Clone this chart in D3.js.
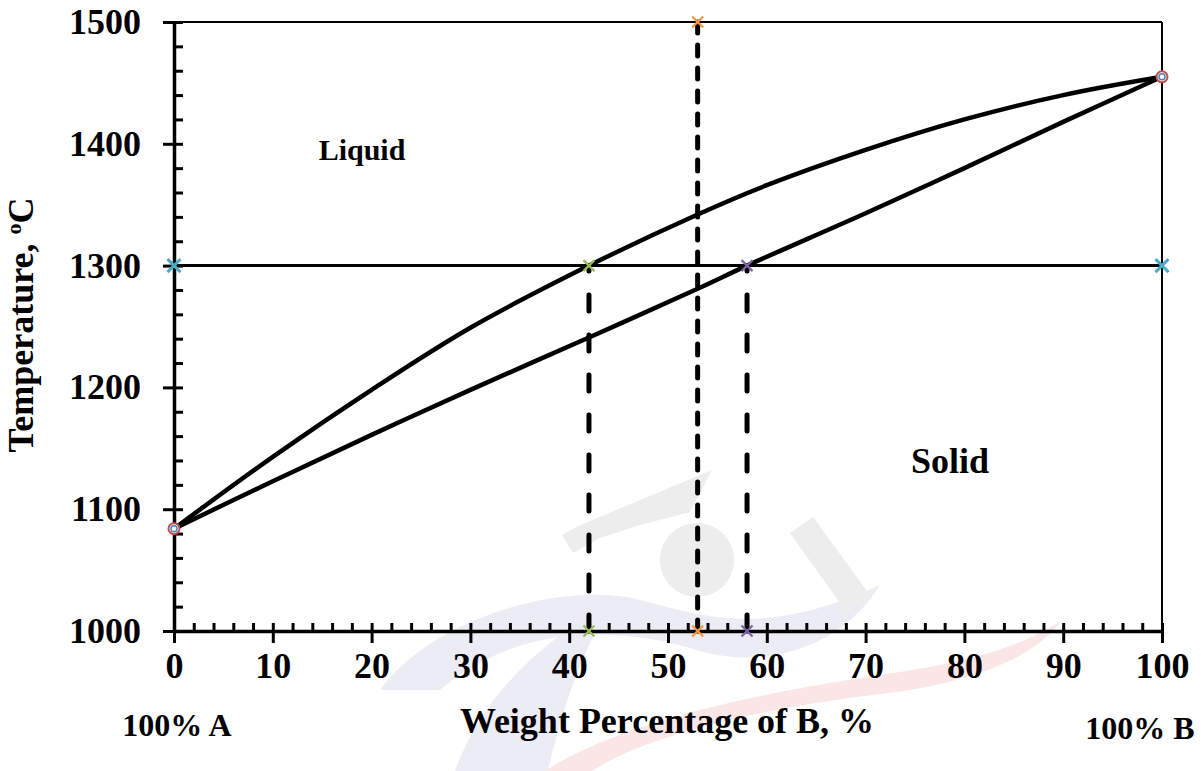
<!DOCTYPE html>
<html>
<head>
<meta charset="utf-8">
<script src="https://cdn.jsdelivr.net/npm/d3@7"></script>
<style>
  body { margin: 0; background: #ffffff; }
  svg text {
    font-family: "Liberation Serif", "Times New Roman", serif;
    font-weight: bold;
    fill: #000;
  }
</style>
</head>
<body>
<div id="phase_diagram"></div>
<script>
// liquidus and solidus (wt% B, degC)
var liquidus_comp = [0, 10, 20, 30, 42, 53, 60, 70, 80, 90, 100];
var liquidus_temp = [1084, 1143, 1198, 1249, 1300, 1342, 1366, 1395, 1420, 1440, 1455];
var solidus_comp = [0, 10, 20, 30, 42, 53, 58, 70, 80, 90, 100];
var solidus_temp = [1084, 1123, 1161, 1198, 1241, 1281, 1300, 1343, 1380, 1418, 1455];

// isotherm and tie lines
var isotherm_temp = 1300;
var isotherm_comp = [0, 100];
var tie_comp = [42, 53, 58];
var tie_top = [1300, 1500, 1300];
var tie_bottom = [1000, 1000, 1000];
var tie_dash = ["16 24", "11 12", "16 24"];
var tie_colors = ["#9BBB59", "#F79646", "#8064A2"];

var melt_points = [
  { c: 0, t: 1084 },
  { c: 100, t: 1455 },
];

var x_tick_values = [0, 10, 20, 30, 40, 50, 60, 70, 80, 90, 100];
var y_tick_values = [1000, 1100, 1200, 1300, 1400, 1500];

var width = 1201,
  height = 771;

var xScale = d3.scaleLinear().domain([0, 100]).range([174, 1162]);
var yScale = d3.scaleLinear().domain([1000, 1500]).range([631, 22]);

var svg = d3
  .select("#phase_diagram")
  .append("svg")
  .attr("width", width)
  .attr("height", height);

drawWatermark();
drawFrame();
drawAxes();
drawCurves();
drawMarkers();
drawLabels();

function drawWatermark() {
  // faint logo behind the plot
  var wm = svg.append("g").attr("class", "watermark");
  wm.append("path")
    .attr("d", "M380,690 C430,620 560,580 640,600 C700,615 760,640 880,585 C840,650 760,672 690,648 C620,628 520,622 440,690 Z")
    .attr("fill", "#ececf4");
  wm.append("path")
    .attr("d", "M455,771 C480,700 540,640 612,603 C582,650 562,710 548,771 Z")
    .attr("fill", "#ececf4");
  wm.append("path")
    .attr("d", "M545,771 C620,722 760,692 900,672 C980,660 1030,642 1062,620 C1032,662 962,684 882,694 C760,708 645,736 592,771 Z")
    .attr("fill", "#fae6e6");
  wm.append("circle")
    .attr("cx", 697)
    .attr("cy", 560)
    .attr("r", 37)
    .attr("fill", "#ededed");
  wm.append("path")
    .attr("d", "M562,535 L578,526 L712,470 L690,512 L640,525 L600,538 L573,553 Z")
    .attr("fill", "#ededed");
  wm.append("path")
    .attr("d", "M790,533 L813,517 L872,598 L847,613 Z")
    .attr("fill", "#ededed");
}

function drawFrame() {
  svg.append("line")
    .attr("x1", xScale(0))
    .attr("x2", xScale(100))
    .attr("y1", yScale(1500))
    .attr("y2", yScale(1500))
    .attr("stroke", "#000")
    .attr("stroke-width", 2);
  svg.append("line")
    .attr("x1", xScale(100))
    .attr("x2", xScale(100))
    .attr("y1", yScale(1500))
    .attr("y2", yScale(1000))
    .attr("stroke", "#000")
    .attr("stroke-width", 2);
}

function drawAxes() {
  // inside ticks, minor and major
  svg.append("g")
    .attr("class", "x-inner")
    .attr("transform", `translate(0,${yScale(1000)})`)
    .call(d3.axisBottom(xScale).tickValues(xScale.ticks(50)).tickSize(-8).tickFormat(""));
  svg.append("g")
    .attr("class", "y-inner")
    .attr("transform", `translate(${xScale(0)},0)`)
    .call(d3.axisRight(yScale).tickValues(yScale.ticks(25)).tickSize(9).tickFormat(""));

  // outside major ticks with labels
  svg.append("g")
    .attr("class", "x-axis")
    .attr("transform", `translate(0,${yScale(1000)})`)
    .call(
      d3.axisBottom(xScale)
        .tickValues(x_tick_values)
        .tickSizeInner(12)
        .tickSizeOuter(0)
        .tickPadding(9)
        .tickFormat(d3.format("d"))
    );
  svg.append("g")
    .attr("class", "y-axis")
    .attr("transform", `translate(${xScale(0)},0)`)
    .call(
      d3.axisLeft(yScale)
        .tickValues(y_tick_values)
        .tickSizeInner(11)
        .tickSizeOuter(0)
        .tickPadding(22)
        .tickFormat(d3.format("d"))
    );

  svg.selectAll(".x-inner .domain, .y-inner .domain").remove();
  svg.selectAll(".x-inner line, .y-inner line, .x-axis line, .y-axis line")
    .attr("stroke", "#000")
    .attr("stroke-width", 3);
  svg.selectAll(".x-axis .domain, .y-axis .domain")
    .attr("stroke", "#000")
    .attr("stroke-width", 3.5);
  svg.selectAll(".x-axis text, .y-axis text")
    .attr("font-size", "36px")
    .attr("font-family", "'Liberation Serif', 'Times New Roman', serif")
    .attr("font-weight", "bold")
    .attr("fill", "#000");
}

function drawCurves() {
  var line = d3
    .line()
    .x(function (d) { return xScale(d[0]); })
    .y(function (d) { return yScale(d[1]); })
    .curve(d3.curveCatmullRom.alpha(0.5));

  var liquidus = d3.zip(liquidus_comp, liquidus_temp);
  var solidus = d3.zip(solidus_comp, solidus_temp);

  // isotherm
  svg.append("line")
    .attr("x1", xScale(isotherm_comp[0]))
    .attr("x2", xScale(isotherm_comp[1]))
    .attr("y1", yScale(isotherm_temp))
    .attr("y2", yScale(isotherm_temp))
    .attr("stroke", "#000")
    .attr("stroke-width", 3);

  // tie lines, drawn upward from the axis
  tie_comp.forEach(function (c, i) {
    svg.append("line")
      .attr("x1", xScale(c))
      .attr("x2", xScale(c))
      .attr("y1", yScale(tie_bottom[i]))
      .attr("y2", yScale(tie_top[i]))
      .attr("stroke", "#000")
      .attr("stroke-width", 5)
      .attr("stroke-linecap", "round")
      .attr("stroke-dasharray", tie_dash[i]);
  });

  [liquidus, solidus].forEach(function (pts) {
    svg.append("path")
      .datum(pts)
      .attr("d", line)
      .attr("fill", "none")
      .attr("stroke", "#000")
      .attr("stroke-width", 4.5)
      .attr("stroke-linejoin", "round");
  });
}

function drawCross(cx, cy, size, color, w) {
  svg.append("path")
    .attr("d", `M${cx - size},${cy - size}L${cx + size},${cy + size}M${cx - size},${cy + size}L${cx + size},${cy - size}`)
    .attr("stroke", color)
    .attr("stroke-width", w)
    .attr("fill", "none");
}

function drawMarkers() {
  // isotherm ends
  isotherm_comp.forEach(function (c) {
    drawCross(xScale(c), yScale(isotherm_temp), 6.5, "#4BACC6", 3);
  });
  // tie line ends
  tie_comp.forEach(function (c, i) {
    drawCross(xScale(c), yScale(tie_bottom[i]), 5.5, tie_colors[i], 2.2);
    drawCross(xScale(c), yScale(tie_top[i]), 5.5, tie_colors[i], 2.2);
  });
  // melting points of A and B
  melt_points.forEach(function (p) {
    svg.append("circle")
      .attr("cx", xScale(p.c))
      .attr("cy", yScale(p.t))
      .attr("r", 5.5)
      .attr("fill", "#fff")
      .attr("stroke", "#C0504D")
      .attr("stroke-width", 2);
    svg.append("circle")
      .attr("cx", xScale(p.c))
      .attr("cy", yScale(p.t))
      .attr("r", 3)
      .attr("fill", "none")
      .attr("stroke", "#4F81BD")
      .attr("stroke-width", 1.5);
  });
}

function drawLabels() {
  svg.append("text")
    .attr("x", 362)
    .attr("y", 160)
    .attr("text-anchor", "middle")
    .attr("font-size", "30px")
    .text("Liquid");

  svg.append("text")
    .attr("x", 950)
    .attr("y", 473)
    .attr("text-anchor", "middle")
    .attr("font-size", "36px")
    .text("Solid");

  svg.append("text")
    .attr("x", 177)
    .attr("y", 736)
    .attr("text-anchor", "middle")
    .attr("font-size", "32px")
    .text("100% A");

  svg.append("text")
    .attr("x", 667)
    .attr("y", 733)
    .attr("text-anchor", "middle")
    .attr("font-size", "36px")
    .text("Weight Percentage of B, %");

  svg.append("text")
    .attr("x", 1140)
    .attr("y", 739)
    .attr("text-anchor", "middle")
    .attr("font-size", "32px")
    .text("100% B");

  var ytitle = svg.append("text")
    .attr("transform", "translate(33,325) rotate(-90)")
    .attr("text-anchor", "middle")
    .attr("font-size", "36px");
  ytitle.append("tspan").text("Temperature, ");
  ytitle.append("tspan").attr("font-size", "22px").attr("dy", "-12").text("o");
  ytitle.append("tspan").attr("dy", "12").text("C");
}
</script>
</body>
</html>
